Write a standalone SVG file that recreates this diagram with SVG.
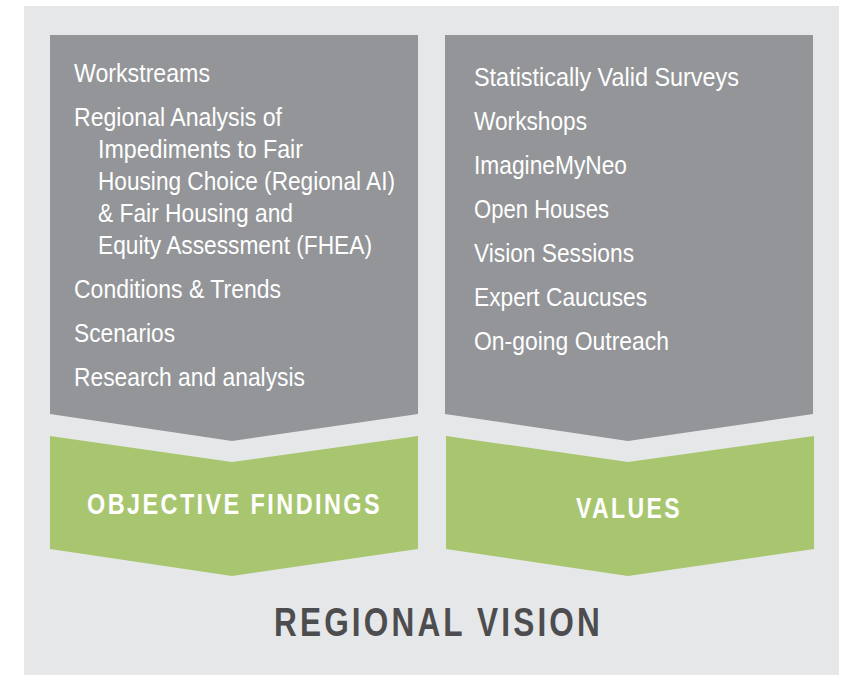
<svg xmlns="http://www.w3.org/2000/svg" width="847" height="675" viewBox="0 0 847 675">
<style>
.bg{fill:#e6e7e8}
.box{fill:#939598}
.grn{fill:#a7c66f}
.item{font-family:"Liberation Sans",Arial,sans-serif;font-size:25px;fill:#ffffff}
.lbl{font-family:"Liberation Sans",Arial,sans-serif;font-weight:bold;font-size:29px;fill:#ffffff;letter-spacing:3px}
.vis{font-family:"Liberation Sans",Arial,sans-serif;font-weight:bold;font-size:40px;fill:#4d4d4f;letter-spacing:4px}
</style>
<rect x="0" y="0" width="847" height="675" style="fill:#ffffff"/>
<rect class="bg" x="24" y="6" width="815" height="669"/>
<g id="workstreams">
<polygon class="box" points="50,35 418,35 418,414 232,441 50,414"/>
<text class="item" x="74" y="82" textLength="136" lengthAdjust="spacingAndGlyphs">Workstreams</text>
<text class="item" x="74" y="126" textLength="208" lengthAdjust="spacingAndGlyphs">Regional Analysis of</text>
<text class="item" x="98" y="158" textLength="205" lengthAdjust="spacingAndGlyphs">Impediments to Fair</text>
<text class="item" x="98" y="190" textLength="297" lengthAdjust="spacingAndGlyphs">Housing Choice (Regional AI)</text>
<text class="item" x="98" y="222" textLength="195" lengthAdjust="spacingAndGlyphs">&amp; Fair Housing and</text>
<text class="item" x="98" y="254" textLength="274" lengthAdjust="spacingAndGlyphs">Equity Assessment (FHEA)</text>
<text class="item" x="74" y="298" textLength="207" lengthAdjust="spacingAndGlyphs">Conditions &amp; Trends</text>
<text class="item" x="74" y="342" textLength="101" lengthAdjust="spacingAndGlyphs">Scenarios</text>
<text class="item" x="74" y="386" textLength="231" lengthAdjust="spacingAndGlyphs">Research and analysis</text>
</g>
<g id="engagement">
<polygon class="box" points="445,35 813,35 813,414 628,441 445,414"/>
<text class="item" x="474" y="86" textLength="265" lengthAdjust="spacingAndGlyphs">Statistically Valid Surveys</text>
<text class="item" x="474" y="130" textLength="113" lengthAdjust="spacingAndGlyphs">Workshops</text>
<text class="item" x="474" y="174" textLength="153" lengthAdjust="spacingAndGlyphs">ImagineMyNeo</text>
<text class="item" x="474" y="218" textLength="135" lengthAdjust="spacingAndGlyphs">Open Houses</text>
<text class="item" x="474" y="262" textLength="160" lengthAdjust="spacingAndGlyphs">Vision Sessions</text>
<text class="item" x="474" y="306" textLength="173" lengthAdjust="spacingAndGlyphs">Expert Caucuses</text>
<text class="item" x="474" y="350" textLength="195" lengthAdjust="spacingAndGlyphs">On-going Outreach</text>
</g>
<g id="objective-findings">
<polygon class="grn" points="50,436 232,462 418,436 418,549 232,576 50,549"/>
<text class="lbl" x="87" y="514" textLength="295" lengthAdjust="spacingAndGlyphs">OBJECTIVE FINDINGS</text>
</g>
<g id="values">
<polygon class="grn" points="446,436 628,462 814,436 814,549 628,576 446,549"/>
<text class="lbl" x="576" y="518" textLength="106" lengthAdjust="spacingAndGlyphs">VALUES</text>
</g>
<g id="regional-vision">
<text class="vis" x="274" y="636" textLength="329" lengthAdjust="spacingAndGlyphs">REGIONAL VISION</text>
</g>
<g id="connectors"></g>
</svg>
